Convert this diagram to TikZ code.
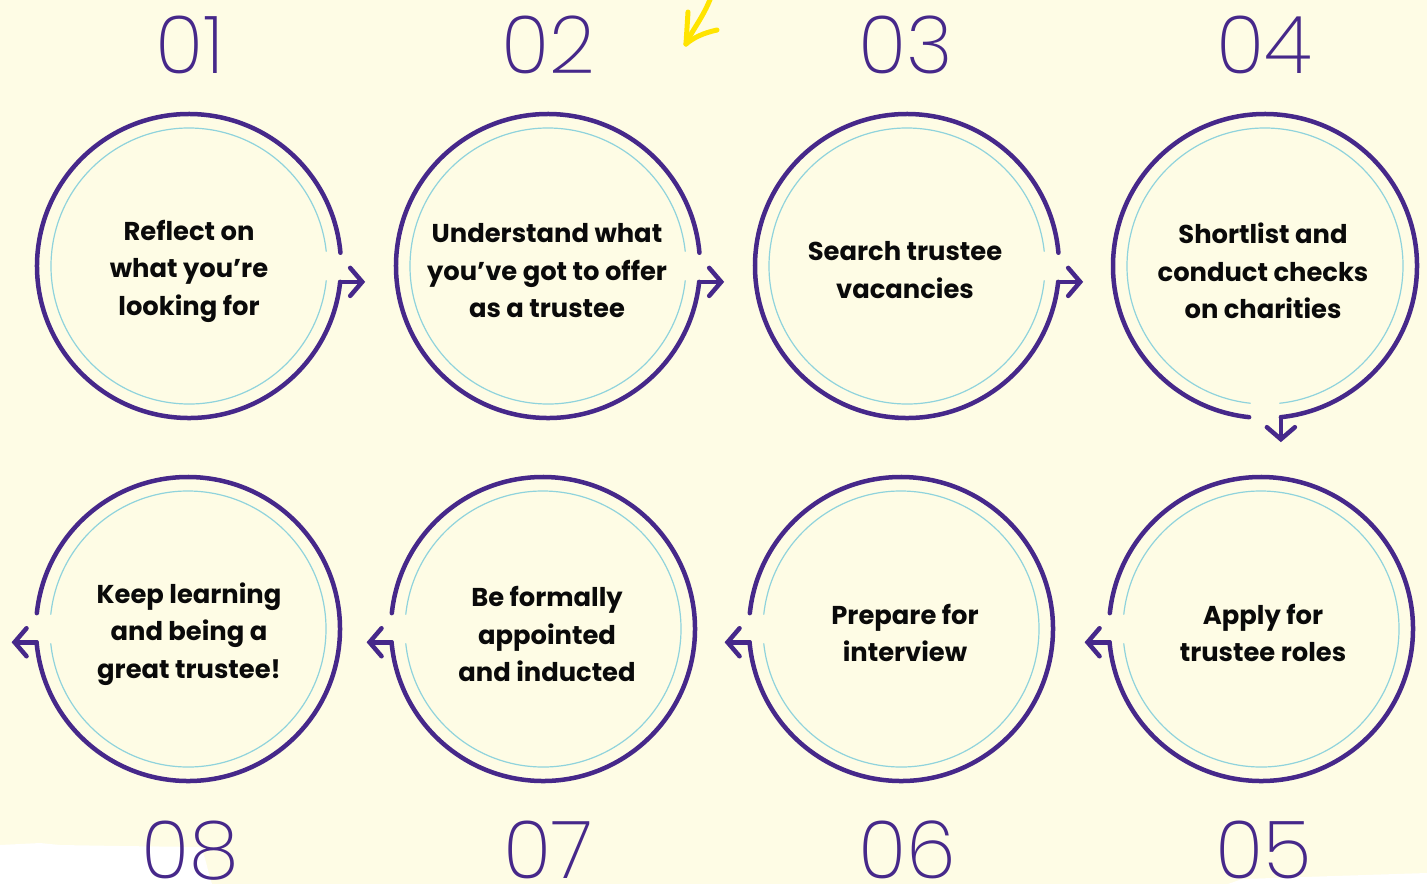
\documentclass[tikz,border=0pt]{standalone}
\usepackage{fontspec}
\setmainfont{Poppins}
\newfontfamily\numfont{Poppins ExtraLight}
\usetikzlibrary{arrows.meta,calc}
\definecolor{bgc}{HTML}{FEFCE5}
\definecolor{ringc}{HTML}{46288A}
\definecolor{innerc}{HTML}{8FD3DC}
\definecolor{txtc}{HTML}{0A0A0A}
\definecolor{yel}{HTML}{FFE400}
\tikzset{
  ring/.style={draw=ringc, line width=4.5pt, line cap=round, line join=round},
  innerring/.style={draw=innerc, line width=1.2pt},
  flowarrow/.style={ring, -{Straight Barb[length=12pt,width=28pt,line cap=round]}},
  steptext/.style={text=txtc, font=\fontsize{25.8}{37.5}\selectfont\bfseries, align=center, inner sep=0pt},
  stepnum/.style={text=ringc, font=\fontsize{80}{80}\selectfont\numfont, inner sep=0pt, anchor=base},
  scribble/.style={draw=yel, line width=5pt, line cap=round, line join=round},
}
\begin{document}
\begin{tikzpicture}[x=1pt,y=-1pt]
\fill[bgc] (0,0) rectangle (1427,884);
\useasboundingbox (0,0) rectangle (1427,884);
% torn white paper edges
\fill[white] (0,845) -- (40,843) -- (60,845) -- (120,846) -- (200,847) .. controls (206,856) and (207,870) .. (212,884) -- (0,884) -- cycle;
\fill[white] (1228,884) -- (1242,879) -- (1427,873) -- (1427,884) -- cycle;
% top row: gap on the right
\foreach \i/\x in {1/189,2/548,3/907} {
  \coordinate (c\i) at (\x,266);
  \draw[ring] ($(c\i)+(6:152)$) arc[start angle=6,end angle=355,radius=152];
  \draw[innerring] ($(c\i)+(6:138)$) arc[start angle=6,end angle=354,radius=138];
  \coordinate (a\i s) at ($(c\i)+(6:152)$);
  \coordinate (a\i e) at ($(a\i s)+(25,0)$);
  \draw[flowarrow] (a\i s) -- (a\i e);
}
% circle 4: gap at the bottom
\coordinate (c4) at (1265,266);
\draw[ring] ($(c4)+(96:152)$) arc[start angle=96,end angle=444,radius=152];
\draw[innerring] ($(c4)+(96:138)$) arc[start angle=96,end angle=444,radius=138];
\coordinate (a4s) at ($(c4)+(84:152)$);
\coordinate (a4e) at ($(a4s)+(0,25)$);
\draw[flowarrow] (a4s) -- (a4e);
% bottom row: gap on the left
\foreach \i/\x in {5/1261,6/901,7/543,8/188} {
  \coordinate (c\i) at (\x,629);
  \draw[ring] ($(c\i)+(186:152)$) arc[start angle=186,end angle=535,radius=152];
  \draw[innerring] ($(c\i)+(186:138)$) arc[start angle=186,end angle=534,radius=138];
  \coordinate (a\i s) at ($(c\i)+(175:152)$);
  \coordinate (a\i e) at ($(a\i s)+(-25,0)$);
  \draw[flowarrow] (a\i s) -- (a\i e);
}
% texts
\node[steptext] (t1) at (189,271) {Reflect on\\what you’re\\looking for};
\node[steptext] (t2) at (547,271) {Understand what\\you’ve got to offer\\as a trustee};
\node[steptext] (t3) at (905,270) {Search trustee\\vacancies};
\node[steptext] (t4) at (1263,271) {Shortlist and\\conduct checks\\on charities};
\node[steptext] (t5) at (1263,633) {Apply for\\trustee roles};
\node[steptext] (t6) at (905,633) {Prepare for\\interview};
\node[steptext] (t7) at (547,634) {Be formally\\appointed\\and inducted};
\node[steptext] (t8) at (189,634) {Keep learning\\and being a\\great trustee!};
% numbers
\node[stepnum] (n1) at (190,73) {01};
\node[stepnum] (n2) at (548,73) {02};
\node[stepnum] (n3) at (906,73) {03};
\node[stepnum] (n4) at (1264,73) {04};
\node[stepnum] (n5) at (1264,878) {05};
\node[stepnum] (n6) at (907,878) {06};
\node[stepnum] (n7) at (548,878) {07};
\node[stepnum] (n8) at (190,878) {08};
% yellow scribbled arrow
\coordinate (y0) at (711,-3);
\coordinate (y1) at (686,44);
\coordinate (yl) at (688,12);
\coordinate (yr) at (717,30);
\draw[scribble] (y0) .. controls (703,18) and (692,30) .. (y1);
\draw[scribble] (yl) -- (y1);
\draw[scribble] (yr) .. controls (703,33) and (693,38) .. (y1);
\end{tikzpicture}
\end{document}
